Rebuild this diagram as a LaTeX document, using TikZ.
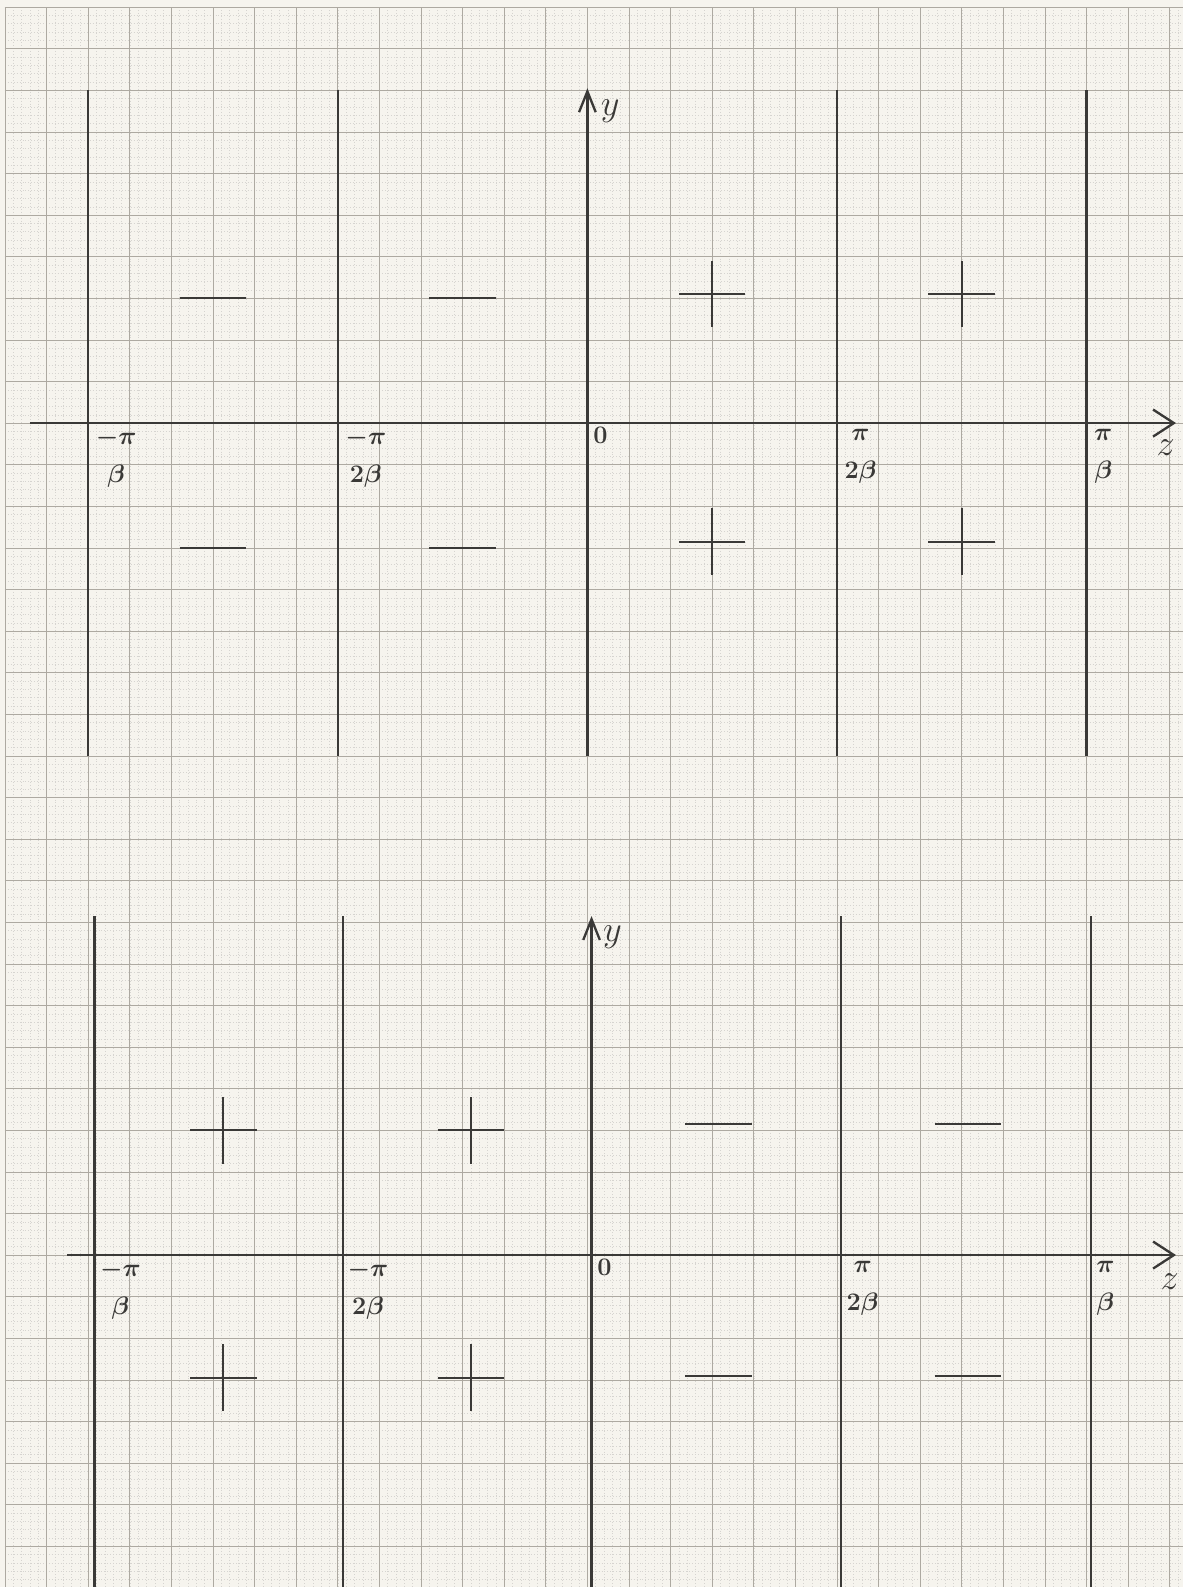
\documentclass[tikz,border=0pt]{standalone}
\usepackage{amsmath,amssymb}
\usepackage{xcolor}
\usetikzlibrary{arrows.meta}

\definecolor{paper}{HTML}{F6F4EE}
\definecolor{gridgray}{HTML}{ADA9A1}
\definecolor{ink}{HTML}{3A3937}

\newcommand{\stackfr}[2]{\genfrac{}{}{0pt}{0}{#1}{#2}}

\begin{document}
\begin{tikzpicture}[yscale=-1, >={Straight Barb[length=5mm,width=4mm]}]
    \tikzstyle{wall} = [draw=ink, line width=1.6pt]
    \tikzstyle{axis} = [draw=ink, line width=1.6pt]
    \tikzstyle{zarrow} = [-{Straight Barb[length=5mm,width=6.5mm]}]
    \tikzstyle{sign} = [draw=ink, line width=1.4pt]
    \tikzstyle{tick} = [anchor=north west, inner sep=1pt, text=ink, font=\fontsize{19}{21}\selectfont\boldmath]
    \tikzstyle{axlabel} = [inner sep=0pt, text=ink, font=\fontsize{26}{28}\selectfont]

    \useasboundingbox[fill=paper] (-0.12,-0.17) rectangle (28.32,37.98);
    % graph paper
    \draw[gridgray!50, line width=0.3pt, dash pattern=on 0.6pt off 1.4pt, step=0.2] (0,0) grid (28.32,37.98);
    \draw[gridgray, line width=0.45pt, step=1] (0,0) grid (28.32,37.98);

    % upper plot
    \foreach \xx in {2,8,20,26}
        \draw[wall] (\xx,2) -- (\xx,18);
    \draw[axis, ->] (14,18) -- (14,1.95);
    \draw[axis, zarrow] (0.6,10) -- (28.15,10);

    \foreach \xx in {5,11} {
        \draw[sign] (\xx-0.8,7) -- (\xx+0.8,7);
        \draw[sign] (\xx-0.8,13) -- (\xx+0.8,13);
    }
    \foreach \xx in {17,23} {
        \draw[sign] (\xx-0.8,6.9) -- (\xx+0.8,6.9);
        \draw[sign] (\xx,6.1) -- (\xx,7.7);
        \draw[sign] (\xx-0.8,12.85) -- (\xx+0.8,12.85);
        \draw[sign] (\xx,12.05) -- (\xx,13.65);
    }

    \node[tick] (ua) at (2.1,10.1) {$\stackfr{-\pi}{\beta}$};
    \node[tick] (ub) at (8.1,10.1) {$\stackfr{-\pi}{2\beta}$};
    \node[tick] (uc) at (14.1,10.05) {$0$};
    \node[tick] (ud) at (20.1,10.1) {$\stackfr{\pi}{2\beta}$};
    \node[tick] (ue) at (26.1,10.1) {$\stackfr{\pi}{\beta}$};
    \node[axlabel] (uz) at (27.9,10.6) {$z$};
    \node[axlabel] (uy) at (14.55,2.5) {$y$};

    % lower plot
    \foreach \xx in {2.15,8.13,20.1,26.1}
        \draw[wall] (\xx,21.85) -- (\xx,37.98);
    \draw[axis, ->] (14.1,37.98) -- (14.1,21.85);
    \draw[axis, zarrow] (1.5,30) -- (28.15,30);

    \foreach \xx in {5.25,11.2} {
        \draw[sign] (\xx-0.8,27) -- (\xx+0.8,27);
        \draw[sign] (\xx,26.2) -- (\xx,27.8);
        \draw[sign] (\xx-0.8,32.95) -- (\xx+0.8,32.95);
        \draw[sign] (\xx,32.15) -- (\xx,33.75);
    }
    \foreach \xx in {17.15,23.15} {
        \draw[sign] (\xx-0.8,26.85) -- (\xx+0.8,26.85);
        \draw[sign] (\xx-0.8,32.9) -- (\xx+0.8,32.9);
    }

    \node[tick] (la) at (2.2,30.1) {$\stackfr{-\pi}{\beta}$};
    \node[tick] (lb) at (8.15,30.1) {$\stackfr{-\pi}{2\beta}$};
    \node[tick] (lc) at (14.2,30.05) {$0$};
    \node[tick] (ld) at (20.15,30.1) {$\stackfr{\pi}{2\beta}$};
    \node[tick] (le) at (26.15,30.1) {$\stackfr{\pi}{\beta}$};
    \node[axlabel] (lz) at (28.0,30.65) {$z$};
    \node[axlabel] (ly) at (14.6,22.35) {$y$};
\end{tikzpicture}
\end{document}
